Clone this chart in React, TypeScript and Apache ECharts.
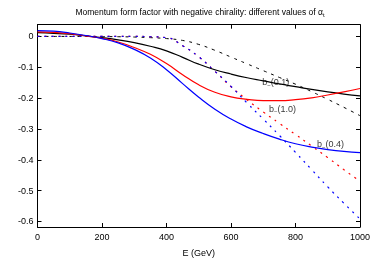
import React, { useEffect, useRef } from "react";
import * as echarts from "echarts";

const energies = [0, 50, 100, 150, 200, 250, 300, 350, 400, 450, 500, 550, 600, 650, 700, 750, 800, 850, 900, 950, 1000];

// solid curves
const bMinus01 = [0.012, 0.010, 0.007, 0.002, -0.004, -0.011, -0.02, -0.032, -0.047, -0.068, -0.09, -0.108, -0.122, -0.134, -0.144, -0.154, -0.163, -0.172, -0.18, -0.187, -0.193];
const bMinus10 = [0.015, 0.013, 0.009, 0.002, -0.006, -0.018, -0.036, -0.058, -0.088, -0.124, -0.157, -0.181, -0.196, -0.204, -0.208, -0.208, -0.205, -0.199, -0.19, -0.18, -0.169];
const bMinus04 = [0.019, 0.017, 0.011, 0.003, -0.007, -0.021, -0.042, -0.07, -0.108, -0.153, -0.197, -0.236, -0.268, -0.294, -0.315, -0.333, -0.348, -0.359, -0.367, -0.373, -0.377];

// dashed / dotted curves
const dashBlack = [0, 0, 0, 0, -0.0005, -0.001, -0.002, -0.004, -0.007, -0.013, -0.026, -0.045, -0.067, -0.089, -0.111, -0.133, -0.155, -0.179, -0.204, -0.23, -0.257];
const dotRed = [0, 0, 0, 0, 0, 0, 0, -0.001, -0.004, -0.03, -0.066, -0.113, -0.163, -0.206, -0.245, -0.282, -0.318, -0.355, -0.393, -0.432, -0.47];
const dotBlue = [0, 0, 0, 0, 0, 0, 0, -0.001, -0.004, -0.03, -0.066, -0.113, -0.162, -0.216, -0.268, -0.321, -0.376, -0.432, -0.488, -0.541, -0.592];

const yTicks = [-0.6, -0.5, -0.4, -0.3, -0.2, -0.1, 0];
const curveLabels = [
  { name: "(0.1)", e: 697, v: -0.148 },
  { name: "(1.0)", e: 718, v: -0.234 },
  { name: "(0.4)", e: 867, v: -0.349 },
];

const FONT = "Liberation Sans, Arial, sans-serif";

function pairs(ys: number[]) {
  return energies.map((e, i) => [e, ys[i]]);
}

export default function App() {
  const ref = useRef<HTMLDivElement>(null);
  useEffect(() => {
    const chart = echarts.init(ref.current!, null, { renderer: "svg" });
    const line = (data: number[], color: string, type: any, width: number) => ({
      type: "line",
      data: pairs(data),
      showSymbol: false,
      smooth: 0.5,
      lineStyle: { color, width, type },
      z: type === "solid" ? 3 : 2,
    });
    const axisCommon = {
      axisLine: { show: true, onZero: false, lineStyle: { color: "#000", width: 1 } },
      axisTick: { show: true, inside: true, length: 4, lineStyle: { color: "#000" } },
      splitLine: { show: false },
    };
    chart.setOption({
      animation: false,
      textStyle: { fontFamily: FONT },
      grid: { left: 37.5, right: 14, top: 24.7, bottom: 27.3 },
      graphic: [
        {
          type: "text",
          x: 200,
          y: 12,
          style: {
            text: "Momentum form factor with negative chirality: different values of α{s|t}",
            align: "center",
            verticalAlign: "middle",
            fontFamily: FONT,
            fontSize: 8.5,
            fill: "#000",
            rich: { s: { fontSize: 6, padding: [5, 0, 0, 0], fontFamily: FONT } },
          },
        },
      ],
      xAxis: [
        {
          type: "value",
          min: 0,
          max: 1000,
          interval: 200,
          position: "bottom",
          ...axisCommon,
          axisLabel: { fontSize: 9, color: "#000", margin: 5, fontFamily: FONT, formatter: (v: number) => String(v) },
          name: "E (GeV)",
          nameLocation: "middle",
          nameGap: 21,
          nameTextStyle: { fontSize: 9, color: "#000", fontFamily: FONT },
        },
        {
          type: "value",
          min: 0,
          max: 1000,
          interval: 200,
          position: "top",
          ...axisCommon,
          axisLabel: { show: false },
        },
      ],
      yAxis: [
        {
          type: "value",
          min: -0.618,
          max: 0.038,
          position: "left",
          ...axisCommon,
          axisTick: { ...axisCommon.axisTick, customValues: yTicks },
          axisLabel: {
            fontSize: 9,
            color: "#000",
            margin: 4,
            fontFamily: FONT,
            customValues: yTicks,
            formatter: (v: number) => (v === 0 ? "0" : v.toFixed(1)),
          },
        },
        {
          type: "value",
          min: -0.618,
          max: 0.038,
          position: "right",
          ...axisCommon,
          axisTick: { ...axisCommon.axisTick, customValues: yTicks },
          axisLabel: { show: false },
        },
      ],
      series: [
        line(dashBlack, "#000000", [3, 5], 1),
        line(dotRed, "#ff0000", [2, 5], 1.2),
        line(dotBlue, "#0000ff", [2, 5], 1.2),
        line(bMinus01, "#000000", "solid", 1.2),
        line(bMinus10, "#ff0000", "solid", 1.2),
        line(bMinus04, "#0000ff", "solid", 1.2),
        {
          type: "scatter",
          symbolSize: 0,
          z: 5,
          data: curveLabels.map((l) => ({ value: [l.e, l.v], name: l.name })),
          label: {
            show: true,
            position: "right",
            distance: 0,
            color: "#000",
            fontSize: 9,
            fontFamily: FONT,
            formatter: (p: any) => "b{s|−}" + p.name,
            rich: { s: { fontSize: 6, padding: [5, 0, 0, 0], fontFamily: FONT, color: "#000" } },
          },
        },
      ],
    });
    return () => chart.dispose();
  }, []);
  return <div ref={ref} style={{ position: "fixed", left: 0, top: 0, width: 374, height: 262 }} />;
}
